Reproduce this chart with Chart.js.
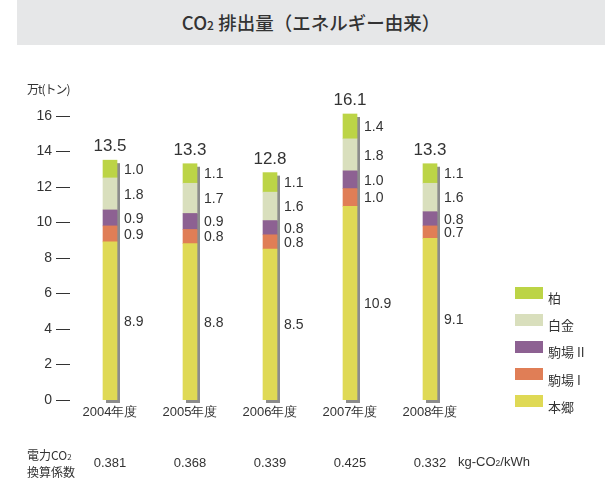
<!DOCTYPE html>
<html lang="ja">
<head>
<meta charset="utf-8">
<script src="https://cdn.jsdelivr.net/npm/chart.js@4/dist/chart.umd.min.js"></script>
<style>
  body { margin: 0; background: #fff; }
  #wrap { position: relative; width: 605px; height: 479px; font-family: 'Liberation Sans Narrow', 'Liberation Sans', 'Noto Sans CJK JP', sans-serif; color: #333; }
  #chart { position: absolute; left: 0; top: 0; }
  .title { position: absolute; left: 17px; top: 0; width: 588px; height: 45px; background: #e6e7e8;
           font: 500 18.5px 'Noto Sans CJK JP', sans-serif; line-height: 45px; text-align: center; color: #333; }
  .title span, .unit2 span, .coef span { font-size: 0.65em; }
  .unit { position: absolute; left: 27px; top: 80px; font: 12px 'Noto Sans CJK JP', sans-serif; letter-spacing: -1px; }
  .legend { position: absolute; left: 515px; top: 284px; font: 13px 'Noto Sans CJK JP', sans-serif; }
  .legend div { height: 27.2px; display: flex; align-items: center; }
  .legend i { display: inline-block; width: 28px; height: 12px; margin-right: 5px; margin-top: -10px; }
  .coef { position: absolute; left: 27px; top: 447px; font: 12px/15px 'Noto Sans CJK JP', sans-serif; }
  .unit2 { position: absolute; left: 458px; top: 454px; font: 13px 'Liberation Sans Narrow', 'Liberation Sans', sans-serif; }
</style>
</head>
<body>
<div id="wrap">
  <canvas id="chart" width="605" height="479"></canvas>
  <div class="title">CO<span>2</span> 排出量（エネルギー由来）</div>
  <div class="unit">万t(トン)</div>
  <div class="legend" id="legend"></div>
  <div class="coef">電力CO<span>2</span><br>換算係数</div>
  <div class="unit2">kg-CO<span>2</span>/kWh</div>
</div>
<script>
const years = ['2004年度', '2005年度', '2006年度', '2007年度', '2008年度'];
const hongo = [8.9, 8.8, 8.5, 10.9, 9.1];
const komaba1 = [0.9, 0.8, 0.8, 1.0, 0.7];
const komaba2 = [0.9, 0.9, 0.8, 1.0, 0.8];
const shirokane = [1.8, 1.7, 1.6, 1.8, 1.6];
const kashiwa = [1.0, 1.1, 1.1, 1.4, 1.1];
const totals = ['13.5', '13.3', '12.8', '16.1', '13.3'];
const coefficients = ['0.381', '0.368', '0.339', '0.425', '0.332'];
const yTicks = [0, 2, 4, 6, 8, 10, 12, 14, 16];

const numFont = "'Liberation Sans Narrow', 'Liberation Sans', sans-serif";

const datasets = [
    { label: '本郷', data: hongo, backgroundColor: '#dfd955' },
    { label: '駒場 I', data: komaba1, backgroundColor: '#e07e56' },
    { label: '駒場 II', data: komaba2, backgroundColor: '#8d6192' },
    { label: '白金', data: shirokane, backgroundColor: '#d9dfbd' },
    { label: '柏', data: kashiwa, backgroundColor: '#bcd446' }
].map(d => ({ ...d, barThickness: 14, borderWidth: 0 }));

// legend, top to bottom is reverse of stack order
const legendEl = document.getElementById('legend');
datasets.slice().reverse().forEach(d => {
    const row = document.createElement('div');
    row.innerHTML = '<i style="background:' + d.backgroundColor + '"></i>' + d.label;
    legendEl.appendChild(row);
});

// gray drop shadow behind each stacked column
const shadowPlugin = {
    id: 'shadow',
    beforeDatasetsDraw(chart) {
        const ctx = chart.ctx;
        const first = chart.getDatasetMeta(0).data;
        const last = chart.getDatasetMeta(chart.data.datasets.length - 1).data;
        ctx.save();
        ctx.fillStyle = '#8c8c8c';
        first.forEach((el, i) => {
            const top = last[i].y;
            const left = el.x - el.width / 2;
            ctx.fillRect(left + 3, top + 3, el.width, el.base - top);
        });
        ctx.restore();
    }
};

// value labels next to segments, totals on top, coefficients under the axis
const labelPlugin = {
    id: 'labels',
    afterDatasetsDraw(chart) {
        const ctx = chart.ctx;
        ctx.save();
        ctx.fillStyle = '#333';
        ctx.textBaseline = 'middle';
        ctx.textAlign = 'left';
        ctx.font = '14px ' + numFont;
        chart.data.datasets.forEach((ds, di) => {
            chart.getDatasetMeta(di).data.forEach((el, i) => {
                ctx.fillText(ds.data[i].toFixed(1), el.x + el.width / 2 + 7, (el.y + el.base) / 2 + 1);
            });
        });
        const last = chart.getDatasetMeta(chart.data.datasets.length - 1).data;
        ctx.font = '17px ' + numFont;
        ctx.textAlign = 'center';
        ctx.textBaseline = 'bottom';
        last.forEach((el, i) => ctx.fillText(totals[i], el.x, el.y - 5));
        ctx.font = '13px ' + numFont;
        ctx.textBaseline = 'middle';
        const x = chart.scales.x;
        coefficients.forEach((c, i) => ctx.fillText(c, x.getPixelForValue(i), 463));
        ctx.restore();
    }
};

new Chart(document.getElementById('chart'), {
    type: 'bar',
    data: { labels: years, datasets: datasets },
    options: {
        responsive: false,
        animation: false,
        layout: { padding: { top: 98, right: 135, bottom: 0, left: 0 } },
        plugins: { legend: { display: false }, tooltip: { enabled: false } },
        scales: {
            x: {
                stacked: true,
                grid: { display: false, drawTicks: false },
                border: { display: false },
                ticks: { color: '#333', padding: 5, font: { size: 13, family: numFont } },
                afterFit(s) { s.height = 79; }
            },
            y: {
                stacked: true,
                min: 0,
                max: 17,
                grid: { display: false, drawTicks: false },
                border: { display: false },
                afterBuildTicks(s) { s.ticks = yTicks.map(v => ({ value: v })); },
                afterFit(s) { s.width = 70; },
                ticks: {
                    color: '#333',
                    padding: 0,
                    font: { size: 14, family: numFont },
                    callback: v => v + ' —'
                }
            }
        }
    },
    plugins: [shadowPlugin, labelPlugin]
});
</script>
</body>
</html>
